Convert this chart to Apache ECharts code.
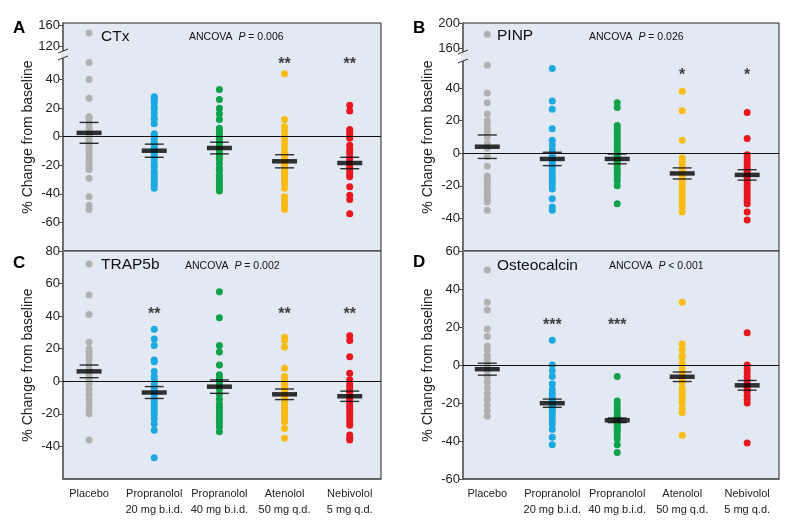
<!DOCTYPE html>
<html><head><meta charset="utf-8">
<script src="https://cdn.jsdelivr.net/npm/echarts@6/dist/echarts.min.js"></script>
<style>html,body{margin:0;padding:0;background:#fff}#c{width:799px;height:521px}</style>
</head><body><div id="c"></div>
<script>
// ---------- DATA ----------
const categories = ['Placebo', 'Propranolol\n20 mg b.i.d.', 'Propranolol\n40 mg b.i.d.', 'Atenolol\n50 mg q.d.', 'Nebivolol\n5 mg q.d.'];

// A: CTx
const ctxPlacebo = [145, 52, 40, 27, 14, 13, 10, 7, 5, 3, 1, -2, -4, -6, -8, -10, -12, -14, -17, -19, -21, -23, -29, -42, -48, -51];
const ctxProp20 = [28, 27, 26, 24, 21, 19, 16, 13, 12, 9, 2, 1, 0, -2, -4, -6, -8, -10, -12, -14, -16, -19, -21, -24, -26, -28, -30, -32, -34, -36];
const ctxProp40 = [33, 26, 20, 16, 12, 6, 4, 2, 0, -2, -4, -6, -8, -10, -12, -14, -16, -19, -22, -24, -27, -29, -31, -33, -35, -37, -38];
const ctxAten = [44, 12, 7, 4, 1, -2, -5, -8, -11, -13, -15, -17, -19, -21, -23, -25, -27, -29, -31, -33, -36, -42, -44, -47, -49, -51];
const ctxNebi = [22, 18, 5, 3, 1, -1, -6, -9, -11, -14, -16, -18, -20, -22, -24, -26, -28, -35, -41, -44, -54];
const ctxMean = [2.7, -9.8, -7.9, -17.2, -18.4];
const ctxSem = [7.3, 4.6, 4.1, 4.6, 4.0];
const ctxStars = ['', '', '', '**', '**'];
const ctxTicksUpper = [120, 160];
const ctxTicksLower = [-60, -40, -20, 0, 20, 40];

// B: PINP
const pinpPlacebo = [182, 54, 37, 31, 24, 20, 18, 15, 13, 10, 6, 3, -2, -8, -14, -16, -18, -20, -22, -24, -26, -28, -30, -35];
const pinpProp20 = [52, 32, 27, 15, 8, 5, 2, 0, -2, -4, -6, -8, -10, -12, -14, -16, -18, -20, -22, -28, -33, -35];
const pinpProp40 = [31, 28, 17, 15, 13, 11, 9, 7, 5, 3, 1, -1, -3, -5, -7, -9, -11, -13, -15, -17, -20, -31];
const pinpAten = [38, 26, 8, -3, -5, -7, -9, -11, -13, -15, -17, -19, -21, -23, -25, -27, -29, -31, -33, -36];
const pinpNebi = [25, 9, -1, -3, -5, -7, -9, -11, -13, -15, -17, -19, -21, -23, -25, -27, -29, -31, -36, -41];
const pinpMean = [4, -3.5, -3.5, -12.4, -13.3];
const pinpSem = [7.2, 4.1, 3.0, 3.4, 3.2];
const pinpStars = ['', '', '', '*', '*'];
const pinpTicksUpper = [160, 200];
const pinpTicksLower = [-40, -20, 0, 20, 40];

// C: TRAP5b
const trapPlacebo = [72, 53, 41, 24, 20, 18, 16, 13, 10, 7, 4, 1, -2, -5, -8, -11, -14, -17, -20, -36];
const trapProp20 = [32, 26, 22, 13, 12, 6, 3, 1, -1, -3, -5, -7, -9, -11, -13, -15, -17, -19, -21, -23, -26, -30, -47];
const trapProp40 = [55, 39, 22, 18, 10, 4, 2, 0, -2, -5, -8, -11, -14, -16, -18, -20, -22, -24, -26, -28, -31];
const trapAten = [27, 25, 21, 8, 3, 1, -1, -3, -5, -7, -9, -11, -13, -15, -17, -19, -21, -23, -25, -29, -35];
const trapNebi = [28, 25, 15, 5, 1, -1, -3, -5, -7, -9, -11, -13, -15, -17, -19, -21, -23, -25, -27, -33, -35, -36];
const trapMean = [6.1, -6.9, -3.3, -8.0, -9.2];
const trapSem = [3.9, 3.65, 4.1, 3.25, 3.15];
const trapStars = ['', '**', '', '**', '**'];
const trapTicks = [-40, -20, 0, 20, 40, 60, 80];

// D: Osteocalcin
const osteoPlacebo = [50, 33, 29, 19, 15, 10, 8, 5, 3, 0, -3, -6, -9, -12, -15, -18, -21, -24, -27];
const osteoProp20 = [13, 0, -3, -6, -10, -13, -15, -17, -19, -20, -21, -22, -23, -24, -25, -27, -29, -31, -34, -38, -42];
const osteoProp40 = [-6, -19, -21, -23, -25, -27, -28, -29, -30, -31, -32, -33, -34, -35, -37, -39, -42, -46];
const osteoAten = [33, 11, 8, 5, 4, 1, -2, -4, -7, -9, -12, -14, -16, -18, -20, -23, -25, -37];
const osteoNebi = [17, 0, -2, -4, -6, -8, -10, -12, -14, -16, -18, -20, -41];
const osteoMean = [-2.2, -20.1, -29.1, -6.2, -10.7];
const osteoSem = [3.15, 2.15, 1.2, 2.5, 2.55];
const osteoStars = ['', '***', '***', '', ''];
const osteoTicks = [-60, -40, -20, 0, 20, 40, 60];

// ---------- STYLE / LAYOUT ----------
const groupColors = ['#b0b0b0', '#1ca8e1', '#10a24b', '#f9bb16', '#e8161f'];
const FONT = "'Liberation Sans', Arial, sans-serif";
const BG = '#e2e9f3';

const panels = [
  {letter: 'A', name: 'CTx', p: ' = 0.006', pSym: 'P',
   groups: [ctxPlacebo, ctxProp20, ctxProp40, ctxAten, ctxNebi], mean: ctxMean, sem: ctxSem, stars: ctxStars, starAt: 53,
   rect: {left: 63, top: 23, width: 318, height: 228}, xr: [-0.4, 4.48],
   parts: [{top: 23, height: 27, min: 112.4, max: 163.8, ticks: ctxTicksUpper},
           {top: 58, height: 193, min: -80, max: 55.1, ticks: ctxTicksLower}],
   xLabels: false, letterPos: [13, 28], namePos: [101, 37], pPos: [189, 37]},
  {letter: 'B', name: 'PINP', p: ' = 0.026', pSym: 'P',
   groups: [pinpPlacebo, pinpProp20, pinpProp40, pinpAten, pinpNebi], mean: pinpMean, sem: pinpSem, stars: pinpStars, starAt: 50,
   rect: {left: 463, top: 23, width: 316, height: 228}, xr: [-0.374, 4.49],
   parts: [{top: 23, height: 28, min: 155.2, max: 200, ticks: pinpTicksUpper},
           {top: 61, height: 190, min: -60, max: 56.6, ticks: pinpTicksLower}],
   xLabels: false, letterPos: [413, 28], namePos: [497, 36], pPos: [589, 37]},
  {letter: 'C', name: 'TRAP5b', p: ' = 0.002', pSym: 'P',
   groups: [trapPlacebo, trapProp20, trapProp40, trapAten, trapNebi], mean: trapMean, sem: trapSem, stars: trapStars, starAt: 43.5,
   rect: {left: 63, top: 251, width: 318, height: 228}, xr: [-0.4, 4.48],
   parts: [{top: 251, height: 228, min: -60, max: 80, ticks: trapTicks}],
   xLabels: true, letterPos: [13, 263], namePos: [101, 265], pPos: [185, 266]},
  {letter: 'D', name: 'Osteocalcin', p: ' < 0.001', pSym: 'P',
   groups: [osteoPlacebo, osteoProp20, osteoProp40, osteoAten, osteoNebi], mean: osteoMean, sem: osteoSem, stars: osteoStars, starAt: 23,
   rect: {left: 463, top: 251, width: 316, height: 228}, xr: [-0.374, 4.49],
   parts: [{top: 251, height: 228, min: -60, max: 60, ticks: osteoTicks}],
   xLabels: true, letterPos: [413, 262], namePos: [497, 266], pPos: [609, 266]}
];

const grid = [], xAxis = [], yAxis = [], series = [], title = [], graphic = [];

panels.forEach((P) => {
  grid.push({left: P.rect.left, top: P.rect.top, width: P.rect.width, height: P.rect.height,
    show: true, backgroundColor: BG, borderColor: '#222', borderWidth: 1});
  const bg = grid.length - 1;
  xAxis.push({gridIndex: bg, type: 'value', min: 0, max: 1, show: false});
  yAxis.push({gridIndex: bg, type: 'value', min: 0, max: 1, axisLine: {show: false, onZero: false}, axisTick: {show: false},
    axisLabel: {show: false}, splitLine: {show: false},
    name: '% Change from baseline', nameLocation: 'middle', nameGap: 28,
    nameTextStyle: {fontFamily: FONT, fontSize: 14, color: '#222'}});

  P.parts.forEach((part, pi) => {
    grid.push({left: P.rect.left, top: part.top, width: P.rect.width, height: part.height, show: false});
    const g = grid.length - 1;
    const isBottom = pi === P.parts.length - 1;
    xAxis.push({gridIndex: g, type: 'value', min: P.xr[0], max: P.xr[1], position: 'bottom',
      show: P.xLabels && isBottom,
      axisLine: {show: true, onZero: false, lineStyle: {color: '#555', width: 1.5}},
      axisTick: {show: false}, splitLine: {show: false},
      axisLabel: {customValues: [0, 1, 2, 3, 4], formatter: (v) => categories[Math.round(v)] || '',
        fontFamily: FONT, fontSize: 11, color: '#222', lineHeight: 16, margin: 7}});
    yAxis.push({gridIndex: g, type: 'value', min: part.min, max: part.max, position: 'left',
      axisLine: {show: true, onZero: false, lineStyle: {color: '#6e6e6e', width: 2}},
      axisTick: {show: true, length: 4, customValues: part.ticks, lineStyle: {color: '#555', width: 1}},
      axisLabel: {customValues: part.ticks, fontFamily: FONT, fontSize: 13, color: '#222', margin: 3},
      splitLine: {show: false}});
    const xi = xAxis.length - 1, yi = yAxis.length - 1;
    const inRange = (v) => v >= part.min && v <= part.max;

    if (inRange(0)) {
      series.push({type: 'line', xAxisIndex: xi, yAxisIndex: yi, data: [], silent: true, z: 1,
        markLine: {silent: true, symbol: 'none', label: {show: false},
          lineStyle: {color: '#111', width: 1.2, type: 'solid'}, data: [{yAxis: 0}]}});
    }
    P.groups.forEach((vals, gi) => {
      series.push({type: 'scatter', xAxisIndex: xi, yAxisIndex: yi, z: 2, symbolSize: 7,
        itemStyle: {color: groupColors[gi], opacity: 1},
        data: vals.filter(inRange).map((v) => [gi, v])});
    });
    const meanData = P.mean.map((m, i) => [i, m]).filter((d) => inRange(d[1]));
    if (meanData.length) {
      series.push({type: 'scatter', xAxisIndex: xi, yAxisIndex: yi, z: 5, symbol: 'rect', symbolSize: [25, 4.5],
        itemStyle: {color: '#000'}, data: meanData});
      const semData = [];
      P.mean.forEach((m, i) => { semData.push([i, m + P.sem[i]]); semData.push([i, m - P.sem[i]]); });
      series.push({type: 'scatter', xAxisIndex: xi, yAxisIndex: yi, z: 5, symbol: 'rect', symbolSize: [19, 1.4],
        itemStyle: {color: '#000'}, data: semData.filter((d) => inRange(d[1]))});
    }
    if (inRange(P.starAt)) {
      series.push({type: 'scatter', xAxisIndex: xi, yAxisIndex: yi, z: 6, symbolSize: 0,
        data: P.stars.map((s, i) => ({value: [i, P.starAt], name: s})).filter((d) => d.name),
        label: {show: true, position: 'inside', formatter: (p) => p.name, offset: [0, 4],
          fontFamily: FONT, fontSize: 16, fontWeight: 'bold', color: '#111'}});
    }
  });

  if (P.parts.length > 1) {
    const x = P.rect.left;
    const yA = P.parts[0].top + P.parts[0].height, yB = P.parts[1].top;
    graphic.push({type: 'rect', shape: {x: x - 2, y: yA + 1, width: 4, height: yB - yA - 1},
      style: {fill: BG}, z: 99});
    [yA + 1, yB].forEach((yy) => {
      graphic.push({type: 'line', shape: {x1: x - 5, y1: yy + 2, x2: x + 5, y2: yy - 2},
        style: {stroke: '#333', lineWidth: 1}, z: 100});
    });
  }

  title.push({text: P.letter, left: P.letterPos[0], top: P.letterPos[1] - 8, padding: 0,
    textStyle: {fontFamily: FONT, fontSize: 17, fontWeight: 'bold', color: '#000', lineHeight: 17}});
  title.push({text: P.name, left: P.namePos[0], top: P.namePos[1] - 8, padding: 0,
    textStyle: {fontFamily: FONT, fontSize: 15.5, fontWeight: 'normal', color: '#111', lineHeight: 16}});
  title.push({text: '{a|ANCOVA  }{i|' + P.pSym + '}{a|' + P.p + '}', left: P.pPos[0], top: P.pPos[1] - 6, padding: 0,
    textStyle: {fontWeight: 'normal', rich: {
      a: {fontFamily: FONT, fontSize: 10.5, fontWeight: 'normal', color: '#111', lineHeight: 12},
      i: {fontFamily: FONT, fontSize: 10.5, fontWeight: 'normal', fontStyle: 'italic', color: '#111', lineHeight: 12}}}});
});

const chart = echarts.init(document.getElementById('c'), null, {renderer: 'canvas'});
chart.setOption({animation: false, backgroundColor: '#fff', title, grid, xAxis, yAxis, series, graphic});
</script>
</body></html>
